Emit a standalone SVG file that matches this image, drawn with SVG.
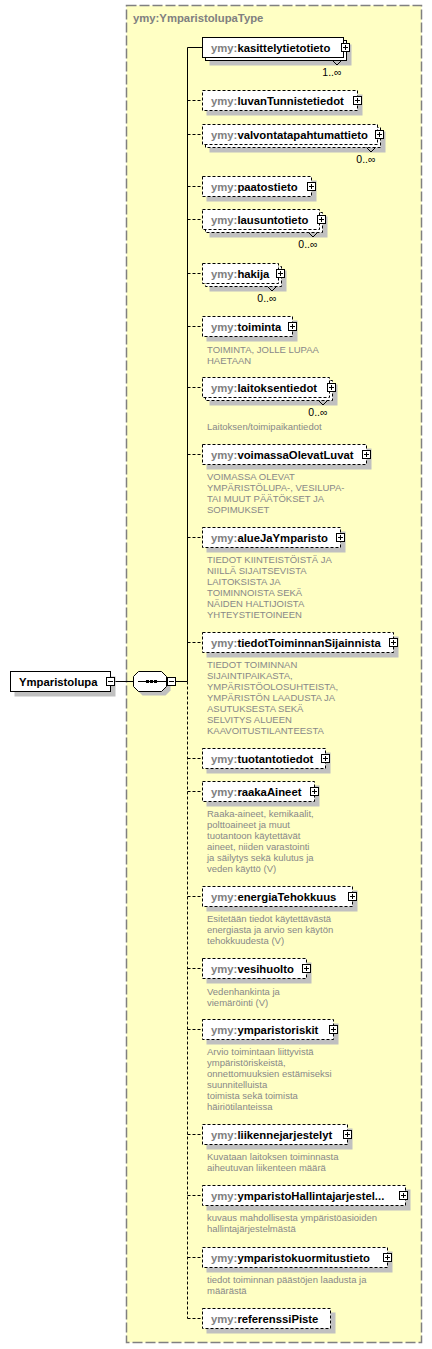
<svg xmlns="http://www.w3.org/2000/svg" xmlns:xlink="http://www.w3.org/1999/xlink" width="432" height="1349" viewBox="0 0 432 1349">
<style>
.frame{fill:#ffffc4;stroke:#808080;stroke-width:1.5;stroke-dasharray:10 3}
.box{fill:#fff;stroke:#000;stroke-width:1}
.opt{stroke-dasharray:3 2}
.sh{fill:#c0c0c0}
.ln{fill:none;stroke:#000;stroke-width:1}
.dl{stroke-dasharray:3 2}
.nm{font-family:"Liberation Sans",Arial,sans-serif;font-weight:bold;font-size:11.3px;fill:#000}
.ns{fill:#808080}
.doc{font-family:"Liberation Sans",Arial,sans-serif;font-size:9.5px;fill:#888}
.mult{font-family:"Liberation Sans",Arial,sans-serif;font-size:10.5px;fill:#000;text-anchor:end}
</style>
<defs>
<g id="plus"><rect x="-4" y="-4" width="8" height="8" fill="#fff" stroke="#000"/><path d="M-2.5 0H2.5M0 -2.5V2.5" stroke="#000" fill="none"/></g>
<g id="minus"><rect x="-4" y="-4" width="8" height="8" fill="#fff" stroke="#000"/><path d="M-2.5 0H2.5" stroke="#000" fill="none"/></g>
</defs>

<rect class="frame" x="126.5" y="5.5" width="295" height="1337"/>
<text class="nm ns" x="133" y="22">ymy:YmparistolupaType</text>

<g id="connectors">
<path class="ln" d="M115 681.5H133.5M176 681.5H187.5M187.5 47.5V681.5M187.5 47.5H202.5"/>
<path class="ln dl" d="M187.5 681.5V1318.5"/>
<path class="ln dl" d="M187.5 100.5H202.5M187.5 134.5H202.5M187.5 186.5H202.5M187.5 219.5H202.5M187.5 273.5H202.5M187.5 326.5H202.5M187.5 387.5H202.5M187.5 454.5H202.5M187.5 537.5H202.5M187.5 642.5H202.5M187.5 758.5H202.5M187.5 791.5H202.5M187.5 896.5H202.5M187.5 968.5H202.5M187.5 1029.5H202.5M187.5 1134.5H202.5M187.5 1195.5H202.5M187.5 1257.5H202.5M187.5 1318.5H202.5"/>
</g>

<g id="root">
<rect class="sh" x="14.5" y="676.5" width="101" height="20"/>
<rect class="box" x="10.5" y="671.5" width="100" height="20"/>
<text class="nm" x="19" y="686">Ymparistolupa</text>
<use xlink:href="#minus" x="110.5" y="681.5"/>
</g>

<g id="sequence">
<polygon class="sh" points="142.5,675.5 165.5,675.5 170.5,680.5 170.5,690.5 165.5,695.5 142.5,695.5 137.5,690.5 137.5,680.5"/>
<polygon class="box" points="138.5,671.5 161.5,671.5 166.5,676.5 166.5,686.5 161.5,691.5 138.5,691.5 133.5,686.5 133.5,676.5"/>
<path class="ln" d="M138 681.5H167"/>
<rect x="146" y="680" width="3" height="3" fill="#000"/>
<rect x="150" y="680" width="3" height="3" fill="#000"/>
<rect x="154" y="680" width="3" height="3" fill="#000"/>
<use xlink:href="#minus" x="171.5" y="681.5"/>
</g>

<g id="kasittelytietotieto">
<rect class="sh" x="209.5" y="44.5" width="142" height="21"/>
<rect class="box" x="205.5" y="40.5" width="141" height="20"/>
<rect class="box" x="202.5" y="37.5" width="141" height="20"/>
<polyline class="ln" points="332.5,60.5 337,65 341.5,60.5"/>
<text class="nm" x="211" y="52"><tspan class="ns">ymy:</tspan>kasittelytietotieto</text>
<use xlink:href="#plus" x="345.5" y="47.5"/>
<text class="mult" x="341.5" y="75.5">1..∞</text>
</g>

<g id="luvanTunnistetiedot">
<rect class="sh" x="206.5" y="94.5" width="156" height="21"/>
<rect class="box opt" x="202.5" y="90.5" width="155" height="20"/>
<text class="nm" x="211" y="105"><tspan class="ns">ymy:</tspan>luvanTunnistetiedot</text>
<use xlink:href="#plus" x="357.5" y="100.5"/>
</g>

<g id="valvontatapahtumattieto">
<rect class="sh" x="209.5" y="131.5" width="176" height="21"/>
<rect class="box opt" x="205.5" y="127.5" width="175" height="20"/>
<rect class="box opt" x="202.5" y="124.5" width="175" height="20"/>
<polyline class="ln" points="366.5,147.5 371,152 375.5,147.5"/>
<text class="nm" x="211" y="139"><tspan class="ns">ymy:</tspan>valvontatapahtumattieto</text>
<use xlink:href="#plus" x="379.5" y="134.5"/>
<text class="mult" x="375.5" y="162.5">0..∞</text>
</g>

<g id="paatostieto">
<rect class="sh" x="206.5" y="180.5" width="110" height="21"/>
<rect class="box opt" x="202.5" y="176.5" width="109" height="20"/>
<text class="nm" x="211" y="191"><tspan class="ns">ymy:</tspan>paatostieto</text>
<use xlink:href="#plus" x="311.5" y="186.5"/>
</g>

<g id="lausuntotieto">
<rect class="sh" x="209.5" y="216.5" width="118" height="21"/>
<rect class="box opt" x="205.5" y="212.5" width="117" height="20"/>
<rect class="box opt" x="202.5" y="209.5" width="117" height="20"/>
<polyline class="ln" points="308.5,232.5 313,237 317.5,232.5"/>
<text class="nm" x="211" y="224"><tspan class="ns">ymy:</tspan>lausuntotieto</text>
<use xlink:href="#plus" x="321.5" y="219.5"/>
<text class="mult" x="317.5" y="247.5">0..∞</text>
</g>

<g id="hakija">
<rect class="sh" x="209.5" y="270.5" width="77" height="21"/>
<rect class="box opt" x="205.5" y="266.5" width="76" height="20"/>
<rect class="box opt" x="202.5" y="263.5" width="76" height="20"/>
<polyline class="ln" points="267.5,286.5 272,291 276.5,286.5"/>
<text class="nm" x="211" y="278"><tspan class="ns">ymy:</tspan>hakija</text>
<use xlink:href="#plus" x="280.5" y="273.5"/>
<text class="mult" x="276.5" y="301.5">0..∞</text>
</g>

<g id="toiminta">
<rect class="sh" x="206.5" y="320.5" width="91" height="21"/>
<rect class="box opt" x="202.5" y="316.5" width="90" height="20"/>
<text class="nm" x="211" y="331"><tspan class="ns">ymy:</tspan>toiminta</text>
<use xlink:href="#plus" x="292.5" y="326.5"/>
<text class="doc" x="207" y="352.5">TOIMINTA, JOLLE LUPAA</text>
<text class="doc" x="207" y="363.5">HAETAAN</text>
</g>

<g id="laitoksentiedot">
<rect class="sh" x="209.5" y="384.5" width="128" height="21"/>
<rect class="box opt" x="205.5" y="380.5" width="127" height="20"/>
<rect class="box opt" x="202.5" y="377.5" width="127" height="20"/>
<polyline class="ln" points="318.5,400.5 323,405 327.5,400.5"/>
<text class="nm" x="211" y="392"><tspan class="ns">ymy:</tspan>laitoksentiedot</text>
<use xlink:href="#plus" x="331.5" y="387.5"/>
<text class="mult" x="327.5" y="415.5">0..∞</text>
<text class="doc" x="207" y="429.5">Laitoksen/toimipaikantiedot</text>
</g>

<g id="voimassaOlevatLuvat">
<rect class="sh" x="206.5" y="448.5" width="165" height="21"/>
<rect class="box opt" x="202.5" y="444.5" width="164" height="20"/>
<text class="nm" x="211" y="459"><tspan class="ns">ymy:</tspan>voimassaOlevatLuvat</text>
<use xlink:href="#plus" x="366.5" y="454.5"/>
<text class="doc" x="207" y="480">VOIMASSA OLEVAT</text>
<text class="doc" x="207" y="491">YMPÄRISTÖLUPA-, VESILUPA-</text>
<text class="doc" x="207" y="502">TAI MUUT PÄÄTÖKSET JA</text>
<text class="doc" x="207" y="513">SOPIMUKSET</text>
</g>

<g id="alueJaYmparisto">
<rect class="sh" x="206.5" y="531.5" width="139" height="21"/>
<rect class="box opt" x="202.5" y="527.5" width="138" height="20"/>
<text class="nm" x="211" y="542"><tspan class="ns">ymy:</tspan>alueJaYmparisto</text>
<use xlink:href="#plus" x="340.5" y="537.5"/>
<text class="doc" x="207" y="563">TIEDOT KIINTEISTÖISTÄ JA</text>
<text class="doc" x="207" y="574">NIILLÄ SIJAITSEVISTA</text>
<text class="doc" x="207" y="585">LAITOKSISTA JA</text>
<text class="doc" x="207" y="596">TOIMINNOISTA SEKÄ</text>
<text class="doc" x="207" y="607">NÄIDEN HALTIJOISTA</text>
<text class="doc" x="207" y="618">YHTEYSTIETOINEEN</text>
</g>

<g id="tiedotToiminnanSijainnista">
<rect class="sh" x="206.5" y="636.5" width="192" height="21"/>
<rect class="box opt" x="202.5" y="632.5" width="191" height="20"/>
<text class="nm" x="211" y="647"><tspan class="ns">ymy:</tspan>tiedotToiminnanSijainnista</text>
<use xlink:href="#plus" x="393.5" y="642.5"/>
<text class="doc" x="207" y="668">TIEDOT TOIMINNAN</text>
<text class="doc" x="207" y="679">SIJAINTIPAIKASTA,</text>
<text class="doc" x="207" y="690">YMPÄRISTÖOLOSUHTEISTA,</text>
<text class="doc" x="207" y="701">YMPÄRISTÖN LAADUSTA JA</text>
<text class="doc" x="207" y="712">ASUTUKSESTA SEKÄ</text>
<text class="doc" x="207" y="723">SELVITYS ALUEEN</text>
<text class="doc" x="207" y="734">KAAVOITUSTILANTEESTA</text>
</g>

<g id="tuotantotiedot">
<rect class="sh" x="206.5" y="752.5" width="124" height="21"/>
<rect class="box opt" x="202.5" y="748.5" width="123" height="20"/>
<text class="nm" x="211" y="763"><tspan class="ns">ymy:</tspan>tuotantotiedot</text>
<use xlink:href="#plus" x="325.5" y="758.5"/>
</g>

<g id="raakaAineet">
<rect class="sh" x="206.5" y="785.5" width="113" height="21"/>
<rect class="box opt" x="202.5" y="781.5" width="112" height="20"/>
<text class="nm" x="211" y="796"><tspan class="ns">ymy:</tspan>raakaAineet</text>
<use xlink:href="#plus" x="314.5" y="791.5"/>
<text class="doc" x="207" y="817">Raaka-aineet, kemikaalit,</text>
<text class="doc" x="207" y="828">polttoaineet ja muut</text>
<text class="doc" x="207" y="839">tuotantoon käytettävät</text>
<text class="doc" x="207" y="850">aineet, niiden varastointi</text>
<text class="doc" x="207" y="861">ja säilytys sekä kulutus ja</text>
<text class="doc" x="207" y="872">veden käyttö (V)</text>
</g>

<g id="energiaTehokkuus">
<rect class="sh" x="206.5" y="890.5" width="151" height="21"/>
<rect class="box opt" x="202.5" y="886.5" width="150" height="20"/>
<text class="nm" x="211" y="901"><tspan class="ns">ymy:</tspan>energiaTehokkuus</text>
<use xlink:href="#plus" x="352.5" y="896.5"/>
<text class="doc" x="207" y="922">Esitetään tiedot käytettävästä</text>
<text class="doc" x="207" y="933">energiasta ja arvio sen käytön</text>
<text class="doc" x="207" y="944">tehokkuudesta (V)</text>
</g>

<g id="vesihuolto">
<rect class="sh" x="206.5" y="962.5" width="105" height="21"/>
<rect class="box opt" x="202.5" y="958.5" width="104" height="20"/>
<text class="nm" x="211" y="973"><tspan class="ns">ymy:</tspan>vesihuolto</text>
<use xlink:href="#plus" x="306.5" y="968.5"/>
<text class="doc" x="207" y="994.5">Vedenhankinta ja</text>
<text class="doc" x="207" y="1005.5">viemäröinti (V)</text>
</g>

<g id="ymparistoriskit">
<rect class="sh" x="206.5" y="1023.5" width="132" height="21"/>
<rect class="box opt" x="202.5" y="1019.5" width="131" height="20"/>
<text class="nm" x="211" y="1034"><tspan class="ns">ymy:</tspan>ymparistoriskit</text>
<use xlink:href="#plus" x="333.5" y="1029.5"/>
<text class="doc" x="207" y="1055">Arvio toimintaan liittyvistä</text>
<text class="doc" x="207" y="1066">ympäristöriskeistä,</text>
<text class="doc" x="207" y="1077">onnettomuuksien estämiseksi</text>
<text class="doc" x="207" y="1088">suunnitelluista</text>
<text class="doc" x="207" y="1099">toimista sekä toimista</text>
<text class="doc" x="207" y="1110">häiriötilanteissa</text>
</g>

<g id="liikennejarjestelyt">
<rect class="sh" x="206.5" y="1128.5" width="146" height="21"/>
<rect class="box opt" x="202.5" y="1124.5" width="145" height="20"/>
<text class="nm" x="211" y="1139"><tspan class="ns">ymy:</tspan>liikennejarjestelyt</text>
<use xlink:href="#plus" x="347.5" y="1134.5"/>
<text class="doc" x="207" y="1160">Kuvataan laitoksen toiminnasta</text>
<text class="doc" x="207" y="1171">aiheutuvan liikenteen määrä</text>
</g>

<g id="ymparistoHallintajarjestelma">
<rect class="sh" x="206.5" y="1189.5" width="204" height="21"/>
<rect class="box opt" x="202.5" y="1185.5" width="203" height="20"/>
<text class="nm" x="211" y="1200"><tspan class="ns">ymy:</tspan>ymparistoHallintajarjestel...</text>
<use xlink:href="#plus" x="403.5" y="1195.5"/>
<text class="doc" x="207" y="1221">kuvaus mahdollisesta ympäristöasioiden</text>
<text class="doc" x="207" y="1232">hallintajärjestelmästä</text>
</g>

<g id="ymparistokuormitustieto">
<rect class="sh" x="206.5" y="1251.5" width="186" height="21"/>
<rect class="box opt" x="202.5" y="1247.5" width="185" height="20"/>
<text class="nm" x="211" y="1262"><tspan class="ns">ymy:</tspan>ymparistokuormitustieto</text>
<use xlink:href="#plus" x="387.5" y="1257.5"/>
<text class="doc" x="207" y="1283">tiedot toiminnan päästöjen laadusta ja</text>
<text class="doc" x="207" y="1294">määrästä</text>
</g>

<g id="referenssiPiste">
<rect class="sh" x="206.5" y="1312.5" width="129" height="21"/>
<rect class="box opt" x="202.5" y="1308.5" width="128" height="20"/>
<text class="nm" x="211" y="1323"><tspan class="ns">ymy:</tspan>referenssiPiste</text>
</g>
</svg>
